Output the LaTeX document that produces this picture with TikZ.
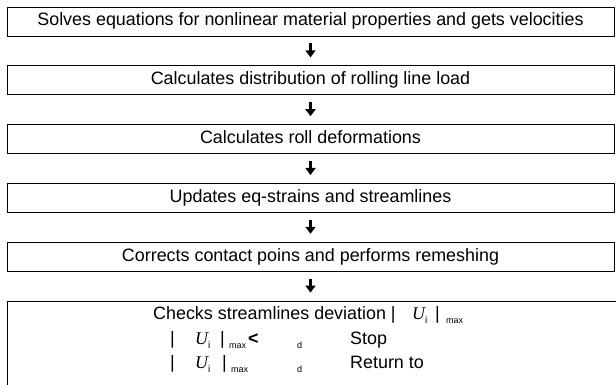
\documentclass[tikz,border=0pt]{standalone}
\usepackage{fontspec}
\setmainfont{Liberation Sans}
\newfontfamily\ufont{Liberation Serif}
\usetikzlibrary{positioning,arrows.meta}
\newcommand{\lowtxt}[2]{\raisebox{-4pt}{\fontsize{#1}{#1}\selectfont #2}}
\newcommand{\Ui}{{\ufont\itshape U}\lowtxt{10}{i}}
\newcommand{\col}[2]{\makebox[#1][l]{#2}}
\tikzset{
  every node/.style={
    font=\fontsize{17.9}{21}\selectfont,
    inner sep=0pt
  },
  stepbox/.style={
    draw, line width=0.8pt, minimum width=607pt, minimum height=29pt,
    text height=13pt, text depth=4pt
  },
  flow/.style={
    line width=2.6pt, -{Triangle[width=10pt,length=7pt]},
    shorten <=7pt, shorten >=8pt
  },
  textline/.style={anchor=base west}
}

\begin{document}
\begin{tikzpicture}
  \useasboundingbox (0,0) rectangle (616pt,-385pt);
  \node[stepbox] (Solve) at (310.5pt,-21.5pt) {Solves equations for
    nonlinear material properties and gets velocities}; \node[stepbox,
  below=29pt of Solve] (Load) {Calculates distribution of rolling line
    load}; \node[stepbox, below=29pt of Load] (Deform) {Calculates roll
    deformations}; \node[stepbox, below=29pt of Deform] (Update)
  {Updates eq-strains and streamlines}; \node[stepbox, below=29pt of
  Update] (Remesh) {Corrects contact poins and performs remeshing};
  \node[draw, line width=0.8pt, minimum width=620pt, minimum
  height=100pt, below=29pt of Remesh.south west, anchor=north west]
  (Check) {};
  \foreach \a/\b in {Solve/Load, Load/Deform, Deform/Update,
    Update/Remesh, Remesh/Check}
    \draw[flow] (\a.south) -- (\a.south |- \b.north);
  \node[textline] (Line1) at (153pt,-319pt) {\col{259pt}{Checks
      streamlines deviation |}\col{23pt}{\Ui}\col{11pt}{|}\lowtxt{9}{max}};
  \node[textline] (Line2) at (170pt,-344pt)
  {\col{25pt}{|}\col{25pt}{\Ui}\col{9pt}{|}\col{19pt}{\lowtxt{9}{max}}%
    \col{49pt}{\textbf{<}}\col{53pt}{\lowtxt{9}{d}}Stop};
  \node[textline] (Line3) at (170pt,-368pt)
  {\col{25pt}{|}\col{27pt}{\Ui}\col{9pt}{|}\col{66pt}{\lowtxt{9}{max}}%
    \col{53pt}{\lowtxt{9}{d}}Return to};
\end{tikzpicture}
\end{document}
